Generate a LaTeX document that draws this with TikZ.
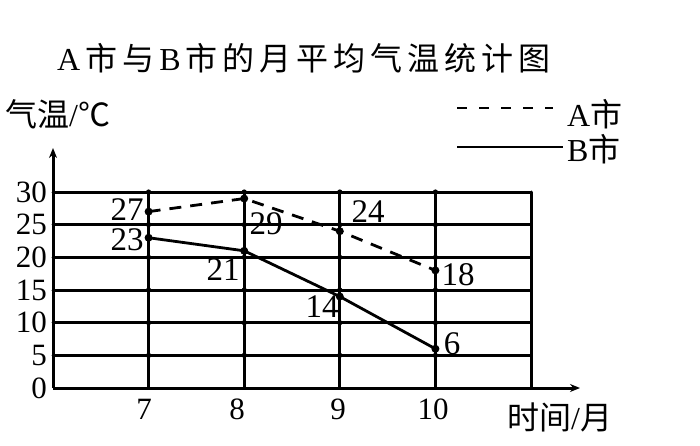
\documentclass[tikz,border=0pt]{standalone}
\usepackage{fontspec}
\setmainfont{Liberation Serif}
\newfontfamily\cjk{Noto Sans CJK SC}
\usetikzlibrary{arrows.meta}
\newcommand{\tsp}{\hspace{5pt}}
\tikzset{
  gridl/.style={line width=3pt, line cap=round},
  axisl/.style={line width=3pt, -{Stealth[length=10pt,width=8pt]}},
  lineB/.style={line width=2.8pt},
  lineA/.style={line width=2.8pt, dash pattern=on 12pt off 9pt},
  dl/.style={font=\fontsize{33}{33}\selectfont, inner sep=0pt},
  tl/.style={font=\fontsize{31}{31}\selectfont, inner sep=0pt},
  txt/.style={font=\fontsize{32}{32}\selectfont, inner sep=0pt},
  ptdot/.style={fill=black},
}
\begin{document}
\begin{tikzpicture}[x=1pt,y=-1pt]
\useasboundingbox[fill=white] (0,0) rectangle (700,446);
% title
\node[txt, anchor=west] (title) at (57,58) {A\tsp{\cjk 市}\tsp{\cjk 与}\tsp B\tsp{\cjk 市}\tsp{\cjk 的}\tsp{\cjk 月}\tsp{\cjk 平}\tsp{\cjk 均}\tsp{\cjk 气}\tsp{\cjk 温}\tsp{\cjk 统}\tsp{\cjk 计}\tsp{\cjk 图}};
% axis labels
\node[txt, anchor=west] (ylab) at (5,114) {{\cjk 气温}/{\cjk ℃}};
\node[txt, anchor=west] (xlab) at (507,417) {{\cjk 时间}/{\cjk 月}};
% legend
\coordinate (la1) at (457,108);
\coordinate (la2) at (553,108);
\coordinate (lb1) at (457,147);
\coordinate (lb2) at (563,147);
\draw[line width=2.6pt, dash pattern=on 10pt off 12pt] (la1) -- (la2);
\draw[lineB] (lb1) -- (lb2);
\node[txt, anchor=west] (legA) at (567,114) {A{\cjk 市}};
\node[txt, anchor=west] (legB) at (567,149) {B{\cjk 市}};
% grid
\foreach \v in {5,10,...,30}
  \draw[gridl] (53,{388-6.533*\v}) -- (531,{388-6.533*\v});
\foreach \x in {148.6,244.2,339.8,435.4,531}
  \draw[gridl] (\x,388) -- (\x,192);
% intersection dots
\foreach \v in {5,10,...,30}
  \foreach \x in {148.6,244.2,339.8,435.4}
    \fill (\x,{388-6.533*\v}) circle (2.6pt);
% axes
\coordinate (O) at (53,388);
\coordinate (ytop) at (53,148);
\coordinate (xend) at (580,388);
\draw[axisl] (O) -- (ytop);
\draw[axisl] (O) -- (xend);
% y tick labels
\foreach \v in {0,5,...,30}
  \node[tl, anchor=east] at (47,{388-6.533*\v}) {\v};
% x tick labels
\node[tl] (x7) at (144,409) {7};
\node[tl] (x8) at (237,409) {8};
\node[tl] (x9) at (338,409) {9};
\node[tl] (x10) at (433,409) {10};
% data points
\coordinate (a7) at (148.6,{388-6.533*27});
\coordinate (a8) at (244.2,{388-6.533*29});
\coordinate (a9) at (339.8,{388-6.533*24});
\coordinate (a10) at (435.4,{388-6.533*18});
\coordinate (b7) at (148.6,{388-6.533*23});
\coordinate (b8) at (244.2,{388-6.533*21});
\coordinate (b9) at (339.8,{388-6.533*14});
\coordinate (b10) at (435.4,{388-6.533*6});
\draw[lineA] (a7) -- (a8) -- (a9) -- (a10);
\draw[lineB] (b7) -- (b8) -- (b9) -- (b10);
\foreach \p in {a7,a8,a9,a10,b7,b8,b9,b10}
  \fill[ptdot] (\p) circle (4pt);
% data labels
\node[dl] (la7) at (127,210) {27};
\node[dl] (lb7) at (127,240) {23};
\node[dl] (la8) at (266,224) {29};
\node[dl] (lb8) at (223,270) {21};
\node[dl] (la9) at (368,212) {24};
\node[dl] (lb9) at (322,307) {14};
\node[dl] (la10) at (458,275) {18};
\node[dl] (lb10) at (452,344) {6};
\end{tikzpicture}
\end{document}
